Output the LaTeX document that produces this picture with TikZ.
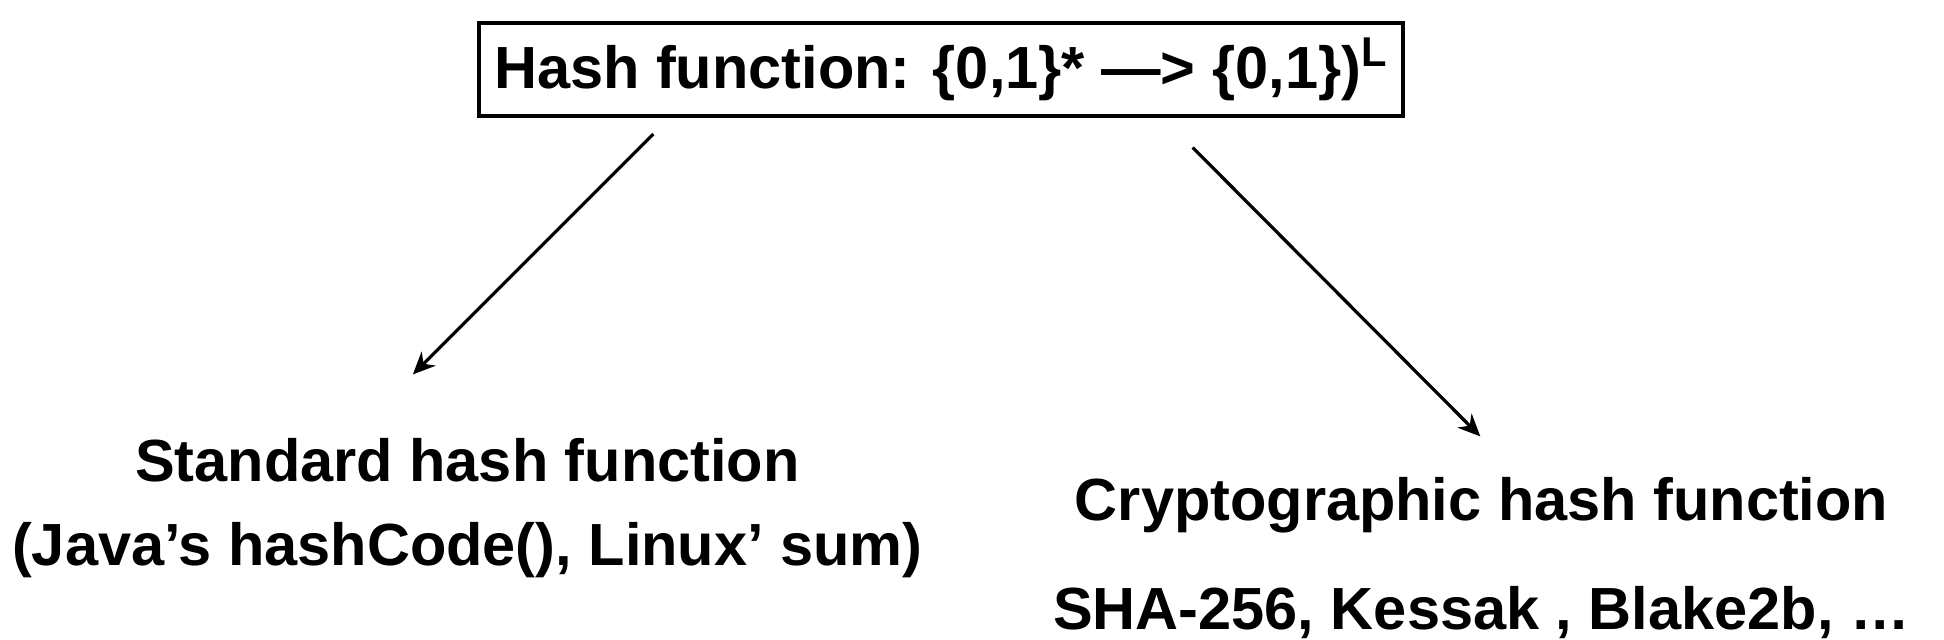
\documentclass[tikz,border=0pt]{standalone}
\usepackage{fontspec}
\setmainfont{Liberation Sans}
\usetikzlibrary{arrows.meta}
\begin{document}
\begin{tikzpicture}[x=0.5pt, y=-0.5pt, font=\bfseries\fontsize{24}{30}\selectfont,
HashBox/.style={draw, line width=1.5pt, inner sep=6pt},
HashLabel/.style={align=center, inner sep=0pt},
HashArrow/.style={-{Stealth[length=9pt, width=8pt]}, line width=1.3pt}]
\useasboundingbox (0,0) rectangle (1568,516);
\node [HashBox] (hash) at (759,56) {Hash function: \{0,1\}* —> \{0,1\})\textsuperscript{L}};
\coordinate (stdFrom) at (527,108);
\coordinate (stdTo) at (333,302);
\coordinate (cryptoFrom) at (962,119);
\coordinate (cryptoTo) at (1194,352);
\node [HashLabel] (standard) at (377,410) {Standard hash function\\[4pt](Java’s hashCode(), Linux’ sum)};
\node [HashLabel] (crypto) at (1195,450) {Cryptographic hash function\\[14pt]SHA-256, Kessak , Blake2b, …};
\draw [HashArrow] (stdFrom) -- (stdTo);
\draw [HashArrow] (cryptoFrom) -- (cryptoTo);
\end{tikzpicture}
\end{document}
